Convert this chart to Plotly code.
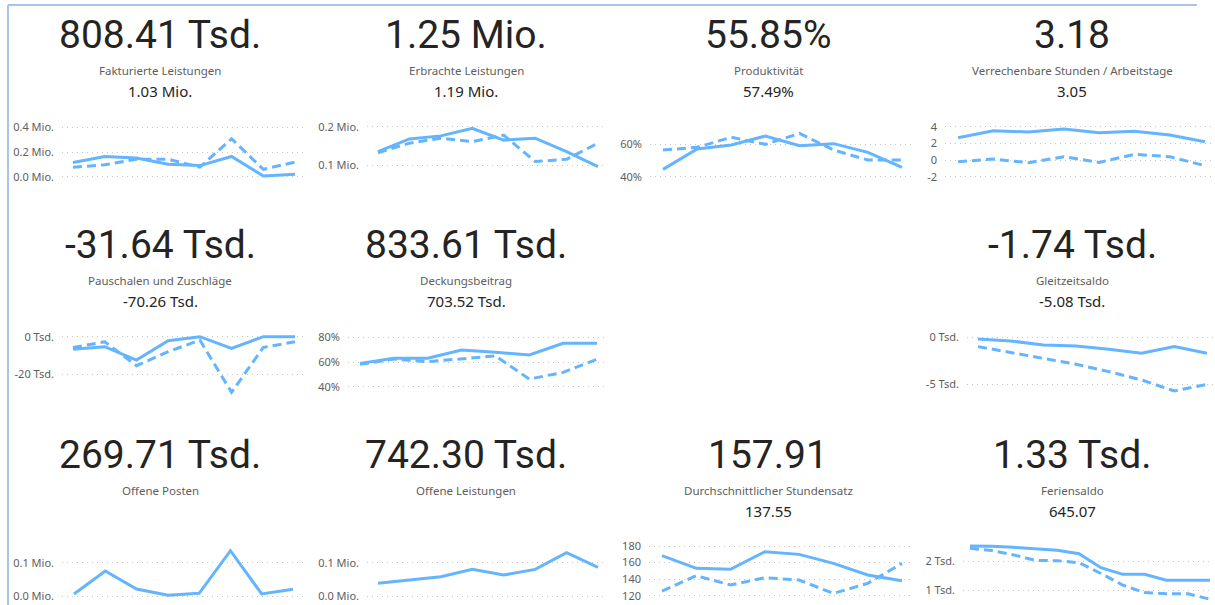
import plotly.graph_objects as go

W, H = 1215, 605

# ---------------- KPI card texts ----------------
kpi_values = ["808.41 Tsd.", "1.25 Mio.", "55.85%", "3.18",
              "-31.64 Tsd.", "833.61 Tsd.", "-1.74 Tsd.",
              "269.71 Tsd.", "742.30 Tsd.", "157.91", "1.33 Tsd."]
kpi_labels = ["Fakturierte Leistungen", "Erbrachte Leistungen", "Produktivität",
              "Verrechenbare Stunden / Arbeitstage",
              "Pauschalen und Zuschläge", "Deckungsbeitrag", "Gleitzeitsaldo",
              "Offene Posten", "Offene Leistungen", "Durchschnittlicher Stundensatz",
              "Feriensaldo"]
kpi_targets = ["1.03 Mio.", "1.19 Mio.", "57.49%", "3.05",
               "-70.26 Tsd.", "703.52 Tsd.", "-5.08 Tsd.",
               "", "", "137.55", "645.07"]

# ---------------- trend series (displayed units) ----------------
fakt_actual = [0.115, 0.164, 0.151, 0.101, 0.090, 0.164, 0.005, 0.019]
fakt_prev   = [0.077, 0.096, 0.142, 0.142, 0.077, 0.307, 0.060, 0.118]
fakt_ticks  = [0.0, 0.2, 0.4]
fakt_tick_labels = ["0.0 Mio.", "0.2 Mio.", "0.4 Mio."]

erb_actual = [0.135, 0.168, 0.176, 0.196, 0.165, 0.170, 0.135, 0.096]
erb_prev   = [0.132, 0.157, 0.170, 0.161, 0.178, 0.109, 0.115, 0.157]
erb_ticks  = [0.1, 0.2]
erb_tick_labels = ["0.1 Mio.", "0.2 Mio."]

prod_actual = [44.5, 56.9, 59.4, 64.9, 59.0, 60.2, 54.9, 45.7]
prod_prev   = [56.3, 58.0, 64.1, 59.8, 66.5, 56.3, 50.2, 50.2]
prod_ticks  = [40, 60]
prod_tick_labels = ["40%", "60%"]

std_actual = [2.68, 3.52, 3.36, 3.72, 3.28, 3.44, 3.00, 2.20]
std_prev   = [-0.20, 0.12, -0.32, 0.40, -0.28, 0.68, 0.40, -0.68]
std_ticks  = [-2, 0, 2, 4]
std_tick_labels = ["-2", "0", "2", "4"]

pau_actual = [-6.7, -5.3, -12.4, -2.1, 0.0, -6.2, 0.0, 0.0]
pau_prev   = [-5.8, -2.7, -15.4, -8.0, -1.8, -29.6, -5.7, -2.7]
pau_ticks  = [-20, 0]
pau_tick_labels = ["-20 Tsd.", "0 Tsd."]

db_actual = [58.9, 63.0, 63.0, 69.7, 67.8, 65.7, 75.1, 75.1]
db_prev   = [58.1, 62.4, 60.3, 62.4, 64.9, 46.2, 51.6, 62.2]
db_ticks  = [40, 60, 80]
db_tick_labels = ["40%", "60%", "80%"]

gz_actual = [-0.18, -0.39, -0.82, -0.92, -1.28, -1.70, -0.99, -1.70]
gz_prev   = [-0.99, -1.63, -2.23, -2.87, -3.65, -4.54, -5.71, -5.00]
gz_ticks  = [-5, 0]
gz_tick_labels = ["-5 Tsd.", "0 Tsd."]

op_actual = [0.006, 0.075, 0.021, 0.002, 0.008, 0.136, 0.006, 0.020]
op_ticks  = [0.0, 0.1]
op_tick_labels = ["0.0 Mio.", "0.1 Mio."]

ol_actual = [0.038, 0.048, 0.058, 0.080, 0.063, 0.080, 0.130, 0.086]
ol_ticks  = [0.0, 0.1]
ol_tick_labels = ["0.0 Mio.", "0.1 Mio."]

sts_actual = [168.3, 153.0, 151.8, 173.1, 169.9, 159.0, 145.0, 138.1]
sts_prev   = [125.6, 144.1, 132.9, 141.7, 138.9, 122.8, 134.9, 159.0]
sts_ticks  = [120, 140, 160, 180]
sts_tick_labels = ["120", "140", "160", "180"]

fer_actual = [2.52, 2.51, 2.47, 2.43, 2.37, 2.25, 1.77, 1.54, 1.54, 1.34, 1.34, 1.34]
fer_prev   = [2.44, 2.36, 2.21, 2.02, 2.01, 1.94, 1.57, 1.17, 0.91, 0.87, 0.87, 0.68]
fer_ticks  = [1, 2]
fer_tick_labels = ["1 Tsd.", "2 Tsd."]

# ---------------- layout (pixels) ----------------
col_cx = [160, 466, 768, 1072]
row_dy = [0, 210, 420]
card_pos = [(0, 0), (0, 1), (0, 2), (0, 3), (1, 0), (1, 1), (1, 3),
            (2, 0), (2, 1), (2, 2), (2, 3)]
row_box = [(112, 193), (322, 403), (532, 604)]

charts = [
    dict(a=fakt_actual, p=fakt_prev, tv=fakt_ticks, tt=fakt_tick_labels, g=(62, 303), d=(73, 295), top=(0.4, 127.3), bot=(0.0, 176.7)),
    dict(a=erb_actual, p=erb_prev, tv=erb_ticks, tt=erb_tick_labels, g=(367, 607), d=(378, 598), top=(0.2, 126.7), bot=(0.1, 165.0)),
    dict(a=prod_actual, p=prod_prev, tv=prod_ticks, tt=prod_tick_labels, g=(650, 915), d=(663, 902), top=(60, 144.0), bot=(40, 176.7)),
    dict(a=std_actual, p=std_prev, tv=std_ticks, tt=std_tick_labels, g=(945, 1212), d=(958, 1205), top=(4, 126.7), bot=(-2, 176.7)),
    dict(a=pau_actual, p=pau_prev, tv=pau_ticks, tt=pau_tick_labels, g=(62, 303), d=(73, 295), top=(0, 336.7), bot=(-20, 374.3)),
    dict(a=db_actual, p=db_prev, tv=db_ticks, tt=db_tick_labels, g=(348, 608), d=(360, 597), top=(80, 337.3), bot=(40, 386.7)),
    dict(a=gz_actual, p=gz_prev, tv=gz_ticks, tt=gz_tick_labels, g=(967, 1213), d=(978, 1207), top=(0, 337.3), bot=(-5, 384.3)),
    dict(a=op_actual, p=None, tv=op_ticks, tt=op_tick_labels, g=(62, 303), d=(74, 293), top=(0.1, 562.7), bot=(0.0, 596.0)),
    dict(a=ol_actual, p=None, tv=ol_ticks, tt=ol_tick_labels, g=(367, 607), d=(378, 598), top=(0.1, 562.7), bot=(0.0, 596.0)),
    dict(a=sts_actual, p=sts_prev, tv=sts_ticks, tt=sts_tick_labels, g=(649, 912), d=(662, 902), top=(180, 546.0), bot=(120, 595.7)),
    dict(a=fer_actual, p=fer_prev, tv=fer_ticks, tt=fer_tick_labels, g=(963, 1212), d=(970, 1210), top=(2, 561.0), bot=(1, 590.0)),
]

LINE = "#64B4FF"
GRID = "#C8C6C4"
TICKC = "#605E5C"
BIG_FONT = "DIN, Roboto"
UI_FONT = "Segoe UI, Noto Sans, Open Sans, sans-serif"

fig = go.Figure()
layout = {}
for i, c in enumerate(charts):
    k = i + 1
    xa = "x" if k == 1 else f"x{k}"
    ya = "y" if k == 1 else f"y{k}"
    n = len(c["a"])
    xs = list(range(n))
    gx0, gx1 = c["g"]
    dx0, dx1 = c["d"]
    step = (dx1 - dx0) / (n - 1)
    xr = [-(dx0 - gx0) / step, (n - 1) + (gx1 - dx1) / step]
    r = card_pos[i][0]
    by0, by1 = row_box[r]
    vt, pt = c["top"]
    vb, pb = c["bot"]
    s = (vt - vb) / (pb - pt)
    yr = [vb - (by1 - pb) * s, vt + (pt - by0) * s]

    if c["p"] is not None:
        fig.add_trace(go.Scatter(x=xs, y=c["p"], mode="lines", xaxis=xa, yaxis=ya,
                                 line=dict(color=LINE, width=3, dash="9px,5px"),
                                 hoverinfo="skip", showlegend=False))
    fig.add_trace(go.Scatter(x=xs, y=c["a"], mode="lines", xaxis=xa, yaxis=ya,
                             line=dict(color=LINE, width=3),
                             hoverinfo="skip", showlegend=False))

    xkey = "xaxis" if k == 1 else f"xaxis{k}"
    ykey = "yaxis" if k == 1 else f"yaxis{k}"
    layout[xkey] = dict(domain=[gx0 / W, gx1 / W], range=xr, visible=False,
                        anchor=ya, fixedrange=True)
    layout[ykey] = dict(domain=[1 - by1 / H, 1 - by0 / H], range=yr, anchor=xa,
                        tickvals=c["tv"], ticktext=c["tt"], showgrid=True,
                        gridcolor=GRID, gridwidth=1, griddash="1px,4px",
                        zeroline=False, showline=False, ticks="",
                        ticklabelstandoff=7,
                        tickfont=dict(family=UI_FONT, size=11, color=TICKC),
                        fixedrange=True)

# ---------------- card texts ----------------
ann = []
for i in range(len(kpi_values)):
    r, cidx = card_pos[i]
    cx = col_cx[cidx] / W
    dy = row_dy[r]
    ann.append(dict(x=cx, y=1 - (35 + dy) / H, xref="paper", yref="paper",
                    text=kpi_values[i], showarrow=False, xanchor="center", yanchor="middle",
                    font=dict(family=BIG_FONT, size=39, color="#252423")))
    ann.append(dict(x=cx, y=1 - (70 + dy) / H, xref="paper", yref="paper",
                    text=kpi_labels[i], showarrow=False, xanchor="center", yanchor="middle",
                    font=dict(family=UI_FONT, size=11.5, color="#605E5C")))
    if kpi_targets[i]:
        ann.append(dict(x=cx, y=1 - (91 + dy) / H, xref="paper", yref="paper",
                        text=kpi_targets[i], showarrow=False, xanchor="center", yanchor="middle",
                        font=dict(family=UI_FONT, size=15, color="#252423")))

shapes = [
    dict(type="line", xref="paper", yref="paper", x0=8 / W, x1=1197 / W,
         y0=1 - 5 / H, y1=1 - 5 / H, line=dict(color="#A9C4E8", width=2)),
    dict(type="line", xref="paper", yref="paper", x0=8 / W, x1=8 / W,
         y0=1 - 5 / H, y1=0, line=dict(color="#A9C4E8", width=2)),
]

fig.update_layout(width=W, height=H, autosize=False,
                  margin=dict(l=0, r=0, t=0, b=0, pad=0),
                  paper_bgcolor="white", plot_bgcolor="white",
                  annotations=ann, shapes=shapes, showlegend=False, **layout)

fig.write_html("out.html", config={"displayModeBar": False},
               post_script="document.body.style.margin='0';document.body.style.overflow='hidden';")
